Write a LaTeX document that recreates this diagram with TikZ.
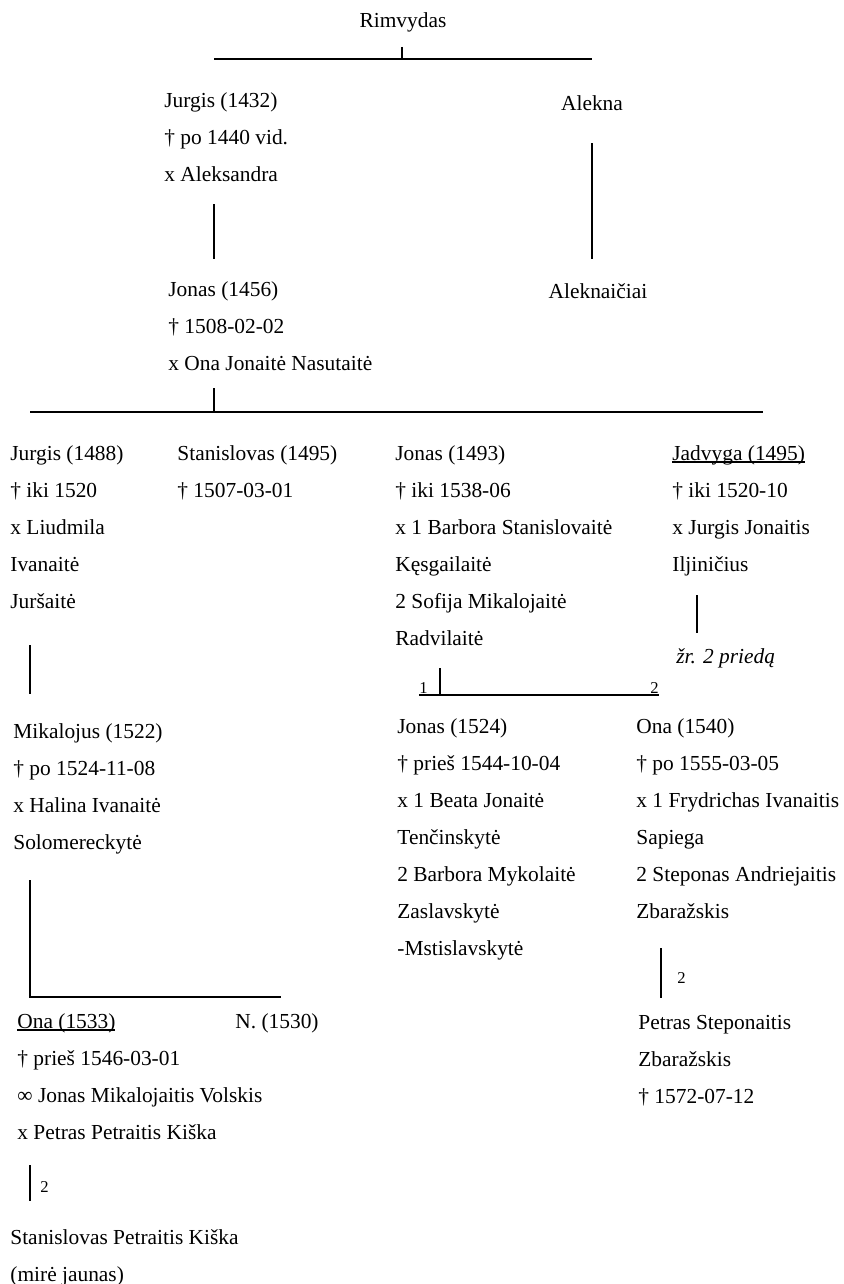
\documentclass[tikz,border=0pt]{standalone}
\usepackage{fontspec}
\setmainfont{Liberation Serif}
\newcommand{\blk}[1]{\begin{tabular}[t]{@{}l@{}}#1\end{tabular}}
\newcommand{\ulx}[1]{\setbox0\hbox{#1}\rlap{\rule[-1.3pt]{\wd0}{0.6pt}}\box0}
\begin{document}
\begin{tikzpicture}[x=0.5pt,y=-0.5pt,
  txt/.style={inner sep=0pt, anchor=base west, font=\fontsize{10.7}{18.5}\selectfont},
  ctxt/.style={inner sep=0pt, anchor=base, font=\fontsize{10.7}{18.5}\selectfont},
  lbl/.style={inner sep=0pt, anchor=base west, font=\fontsize{8.3}{10}\selectfont},
  ln/.style={line width=0.8pt}]
\useasboundingbox (0,0) rectangle (843,1284);

% top generation
\node[ctxt] (rim) at (403,28) {Rimvydas};
\coordinate (rimA) at (402,47);
\coordinate (rimB) at (402,59);
\coordinate (rimL) at (214,59);
\coordinate (rimR) at (592,59);
\draw[ln] (rimL) -- (rimR);
\draw[ln] (rimA) -- (rimB);

\node[txt] (jurgis1) at (164,107) {\blk{Jurgis (1432)\\† po 1440 vid.\\x Aleksandra}};
\node[ctxt] (alekna) at (592,111) {Alekna};
\coordinate (jgA) at (214,204);
\coordinate (jgB) at (214,259);
\draw[ln] (jgA) -- (jgB);
\coordinate (alA) at (592,143);
\coordinate (alB) at (592,259);
\draw[ln] (alA) -- (alB);

\node[txt] (jonas1) at (168,296) {\blk{Jonas (1456)\\† 1508-02-02\\x Ona Jonaitė Nasutaitė}};
\node[ctxt] (aleknaiciai) at (598,298) {Aleknaičiai};

\coordinate (jnA) at (214,388);
\coordinate (jnB) at (214,412);
\coordinate (rowL) at (30,412);
\coordinate (rowR) at (763,412);
\draw[ln] (rowL) -- (rowR);
\draw[ln] (jnA) -- (jnB);

% children of Jonas (1456)
\node[txt] (jurgis2) at (10,460) {\blk{Jurgis (1488)\\† iki 1520\\x Liudmila\\Ivanaitė\\Juršaitė}};
\node[txt] (stan1) at (177,460) {\blk{Stanislovas (1495)\\† 1507-03-01}};
\node[txt] (jonas2) at (395,460) {\blk{Jonas (1493)\\† iki 1538-06\\x 1 Barbora Stanislovaitė\\Kęsgailaitė\\2 Sofija Mikalojaitė\\Radvilaitė}};
\node[txt] (jadvyga) at (672,460) {\blk{\ulx{Jadvyga (1495)}\\† iki 1520-10\\x Jurgis Jonaitis\\Iljiničius}};

\coordinate (jdA) at (697,595);
\coordinate (jdB) at (697,633);
\draw[ln] (jdA) -- (jdB);
\node[txt] (zr) at (676,663) {\itshape žr. 2 priedą};

% Jonas (1493) marriages
\coordinate (mL) at (419,695);
\coordinate (mR) at (659,695);
\coordinate (mA) at (440,668);
\coordinate (mB) at (440,695);
\draw[ln] (mL) -- (mR);
\draw[ln] (mA) -- (mB);
\node[lbl] (m1) at (419,693) {1};
\node[lbl, anchor=base east] (m2) at (659,693) {2};

\coordinate (mkA) at (30,645);
\coordinate (mkB) at (30,694);
\draw[ln] (mkA) -- (mkB);

\node[txt] (mikalojus) at (13,738) {\blk{Mikalojus (1522)\\† po 1524-11-08\\x Halina Ivanaitė\\Solomereckytė}};
\node[txt] (jonas3) at (397,733) {\blk{Jonas (1524)\\† prieš 1544-10-04\\x 1 Beata Jonaitė\\Tenčinskytė\\2 Barbora Mykolaitė\\Zaslavskytė\\-Mstislavskytė}};
\node[txt] (ona1) at (636,733) {\blk{Ona (1540)\\† po 1555-03-05\\x 1 Frydrichas Ivanaitis\\Sapiega\\2 Steponas Andriejaitis\\Zbaražskis}};

\coordinate (lA) at (30,880);
\coordinate (lB) at (30,997);
\coordinate (lC) at (281,997);
\draw[ln] (lA) -- (lB) -- (lC);

\coordinate (oA) at (661,948);
\coordinate (oB) at (661,998);
\draw[ln] (oA) -- (oB);
\node[lbl] (o2) at (677,983) {2};

\node[txt] (ona2) at (17,1028) {\blk{\ulx{Ona (1533)}\\† prieš 1546-03-01\\∞ Jonas Mikalojaitis Volskis\\x Petras Petraitis Kiška}};
\node[txt] (nn) at (235,1028) {N. (1530)};
\node[txt] (petras) at (638,1029) {\blk{Petras Steponaitis\\Zbaražskis\\† 1572-07-12}};

\coordinate (kA) at (30,1165);
\coordinate (kB) at (30,1201);
\draw[ln] (kA) -- (kB);
\node[lbl] (k2) at (40,1192) {2};

\node[txt] (stan2) at (10,1244) {\blk{Stanislovas Petraitis Kiška\\(mirė jaunas)}};
\end{tikzpicture}
\end{document}
